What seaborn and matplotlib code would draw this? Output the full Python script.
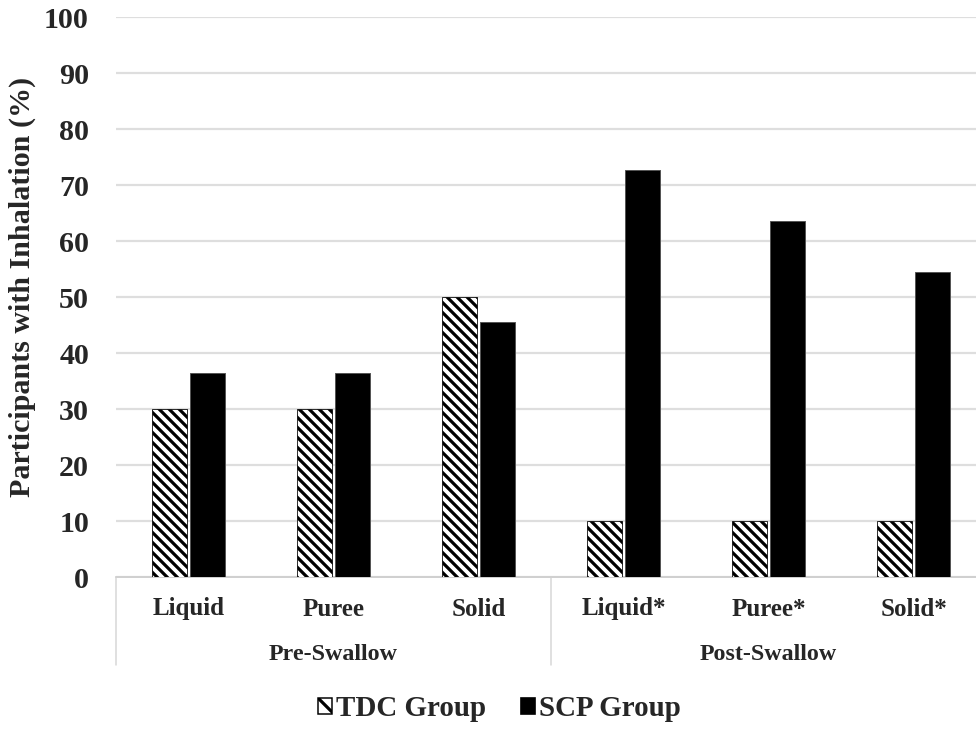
import matplotlib
matplotlib.use("Agg")
import matplotlib.pyplot as plt
from matplotlib.patches import Patch
import seaborn as sns
import pandas as pd

# ---- data ----
categories = ["Liquid", "Puree", "Solid", "Liquid*", "Puree*", "Solid*"]
groups = ["Pre-Swallow", "Post-Swallow"]
tdc_values = [30, 30, 50, 10, 10, 10]
scp_values = [36.4, 36.4, 45.5, 72.7, 63.6, 54.5]
series_names = ["TDC Group", "SCP Group"]
y_ticks = [0, 10, 20, 30, 40, 50, 60, 70, 80, 90, 100]

df = pd.DataFrame({
    "Category": categories * 2,
    "Group": [series_names[0]] * len(categories) + [series_names[1]] * len(categories),
    "Value": tdc_values + scp_values,
})

DPI = 120
W, H = 976, 733
def pt(px):
    return px * 72.0 / DPI

sns.set_theme(style="white")
plt.rcParams["font.family"] = ["Liberation Serif", "DejaVu Serif"]
plt.rcParams["font.weight"] = "bold"
plt.rcParams["hatch.linewidth"] = pt(3.2)

HATCH = "\\" * 4

fig = plt.figure(figsize=(W / DPI, H / DPI), dpi=DPI)
ax_left = 116 / W
ax_right = 986 / W
ax_bottom = 1 - 577 / H
ax_top = 1 - 17 / H
ax = fig.add_axes([ax_left, ax_bottom, ax_right - ax_left, ax_top - ax_bottom])

sns.barplot(data=df, x="Category", y="Value", hue="Group", order=categories,
            hue_order=series_names,
            palette={series_names[0]: "white", series_names[1]: "black"},
            width=0.53, gap=0.09, ax=ax, legend=False,
            edgecolor="#555555", linewidth=pt(1.0), zorder=3)

for bar in ax.containers[0]:
    bar.set_hatch(HATCH)
    bar.set_facecolor("white")
    bar.set_edgecolor("black")
    bar.set_linewidth(pt(0.8))

ax.set_ylim(0, 100)
ax.set_xlim(-0.5, len(categories) - 0.5)
ax.set_yticks(y_ticks)
ax.set_yticklabels([str(v) for v in y_ticks], fontsize=pt(30), fontweight="bold")
ax.tick_params(axis="y", length=0, pad=pt(27))
ax.set_xticks([])
ax.set_xlabel("")
ax.set_ylabel("Participants with Inhalation (%)", fontsize=pt(30), fontweight="bold")
ax.yaxis.set_label_coords(-80 / 870, 0.5 + 10 / 560)

for s in ax.spines.values():
    s.set_visible(False)
ax.yaxis.grid(True, color="#dedede", linewidth=pt(2.2), zorder=0)
ax.set_axisbelow(True)

trans = ax.get_xaxis_transform()
axh = 560.0
for i, c in enumerate(categories):
    ax.text(i, -32 / axh, c, transform=trans, ha="center", va="center",
            fontsize=pt(25), fontweight="bold", clip_on=False)
for gi, g in enumerate(groups):
    ax.text(gi * 3 + 1, -77 / axh, g, transform=trans, ha="center", va="center",
            fontsize=pt(24), fontweight="bold", clip_on=False)
for xsep in [-0.5, 2.5, 5.5]:
    ax.plot([xsep, xsep], [0, -88 / axh], transform=trans, color="#d9d9d9",
            linewidth=pt(1.6), clip_on=False)
ax.plot([-0.5, 5.5], [0, 0], transform=trans, color="#d0d0d0",
        linewidth=pt(2.0), clip_on=False, zorder=2)

handles = [
    Patch(facecolor="white", edgecolor="black", hatch="\\\\", linewidth=pt(1.5)),
    Patch(facecolor="black", edgecolor="black"),
]
fig.legend(handles, series_names, loc="center", bbox_to_anchor=(499 / W, 1 - 709 / H),
           ncol=2, frameon=False, prop={"size": pt(29), "weight": "bold"},
           handlelength=0.5, handleheight=0.5, handletextpad=0.12,
           columnspacing=1.2)

fig.savefig("out.png", dpi=DPI)
